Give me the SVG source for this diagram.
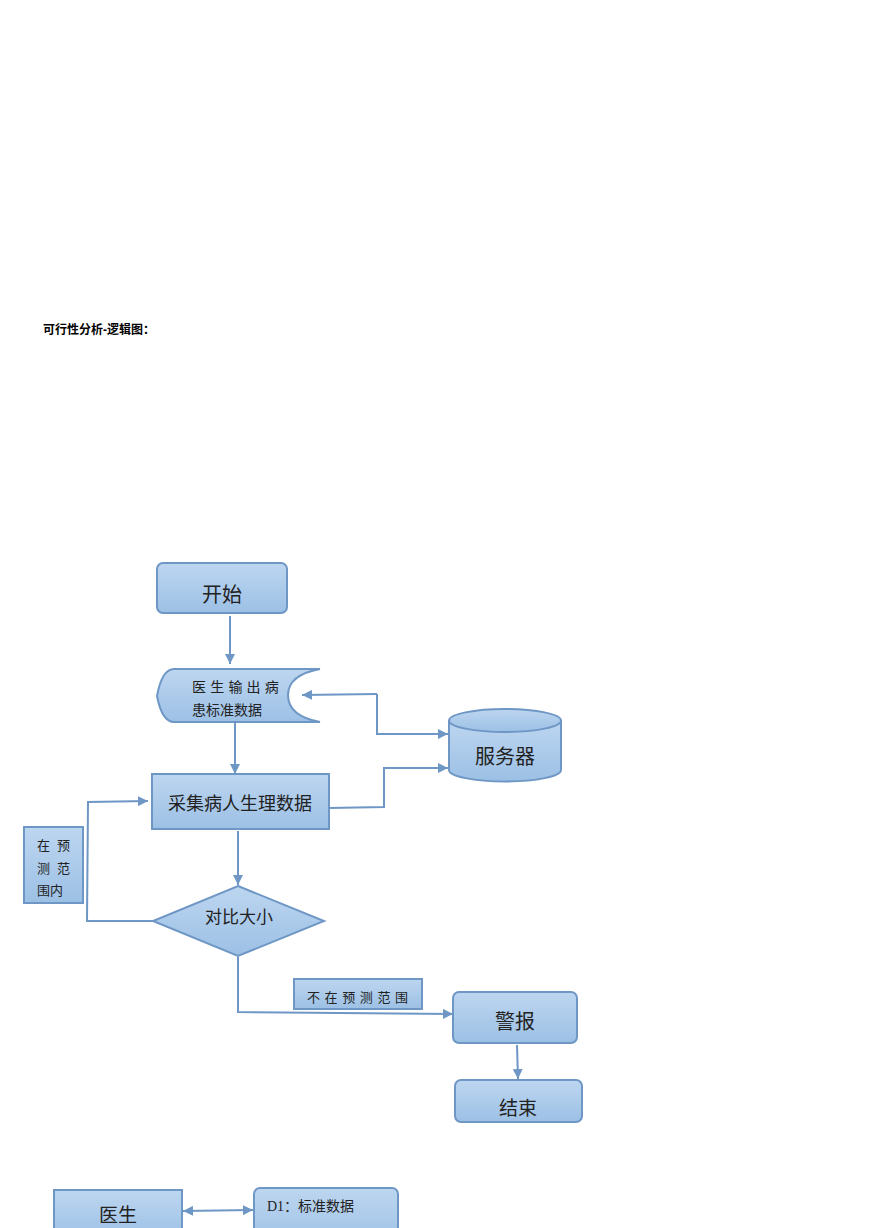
<svg xmlns="http://www.w3.org/2000/svg" width="870" height="1228" viewBox="0 0 870 1228">
<defs>
<linearGradient id="g" x1="0" y1="0" x2="0" y2="1">
<stop offset="0" stop-color="#bdd6f0"/>
<stop offset="1" stop-color="#9cc0e5"/>
</linearGradient>
<marker id="ah" viewBox="0 0 10 10" refX="10" refY="5" markerWidth="5" markerHeight="5" orient="auto-start-reverse" markerUnits="strokeWidth">
<path d="M0,0 L10,5 L0,10 z" fill="#6f97c5"/>
</marker>
</defs>
<style>
.n{fill:url(#g);stroke:#6f97c5;stroke-width:2}
.c{fill:none;stroke:#6f97c5;stroke-width:2}
.a{marker-end:url(#ah)}
.t{font-family:"Noto Sans CJK SC","Liberation Sans",sans-serif;fill:#222;text-anchor:middle}
.s{font-family:"Noto Sans CJK SC","Liberation Sans",sans-serif;fill:#222}
</style>
<rect width="870" height="1228" fill="#fff"/>
<text x="43" y="334" font-family="'Liberation Sans','Noto Sans CJK SC',sans-serif" font-weight="bold" font-size="12" fill="#000">可行性分析-逻辑图：</text>

<g id="connectors">
<line class="c a" x1="230" y1="616" x2="230" y2="664"/>
<line class="c a" x1="235" y1="723" x2="235" y2="774"/>
<polyline class="c a" points="377,694 302,695"/>
<polyline class="c a" points="377,694 377,734 448,734"/>
<polyline class="c a" points="329,808 384,807 384,768 448,768"/>
<line class="c a" x1="238" y1="831" x2="238" y2="885"/>
<polyline class="c a" points="153,921 87,921 88,802 148,801"/>
<polyline class="c a" points="238,957 238,1012 453,1014"/>
<line class="c a" x1="517" y1="1045" x2="518" y2="1079"/>
<line class="c a" x1="183" y1="1211" x2="253" y2="1210" marker-start="url(#ah)"/>
</g>

<g id="start">
<rect class="n" x="157" y="563" width="130" height="50" rx="6"/>
<text class="t" x="222" y="602" font-size="20">开始</text>
</g>

<g id="display">
<path class="n" d="M174,669 L320,669 Q288,675 288,695 Q288,716 320,722 L174,722 Q162,722 157,696 Q162,669 174,669 Z"/>
<text class="s" x="192" y="692" font-size="14" letter-spacing="4.2">医生输出病</text>
<text class="s" x="192" y="715" font-size="14">患标准数据</text>
</g>

<g id="server">
<path class="n" d="M449,720 L449,770 A56,11.5 0 0 0 561,770 L561,720"/>
<ellipse class="n" cx="505" cy="720.5" rx="56" ry="11.5"/>
<text class="t" x="505" y="764" font-size="20">服务器</text>
</g>

<g id="collect">
<rect class="n" x="152" y="774" width="177" height="55"/>
<text class="t" x="240" y="810" font-size="18">采集病人生理数据</text>
</g>

<g id="compare">
<polygon class="n" points="238,886 324,921 238,956 153,921"/>
<text class="t" x="239" y="923" font-size="17">对比大小</text>
</g>

<g id="inrange">
<rect class="n" x="24" y="827" width="59" height="76"/>
<text class="s" font-size="13"><tspan x="37 57" y="850">在预</tspan><tspan x="37 57" y="873">测范</tspan><tspan x="37" y="895">围内</tspan></text>
</g>

<g id="outrange">
<rect class="n" x="294" y="979" width="128" height="30"/>
<text class="s" x="307" y="1002" font-size="13" letter-spacing="4.6">不在预测范围</text>
</g>

<g id="alarm">
<rect class="n" x="453" y="992" width="124" height="51" rx="6"/>
<text class="t" x="515" y="1029" font-size="20">警报</text>
</g>

<g id="end">
<rect class="n" x="455" y="1080" width="127" height="42" rx="6"/>
<text class="t" x="518" y="1115" font-size="19">结束</text>
</g>

<g id="doctor">
<rect class="n" x="54" y="1190" width="128" height="50"/>
<text class="t" x="118" y="1222" font-size="19">医生</text>
</g>

<g id="d1">
<rect class="n" x="254" y="1188" width="144" height="60" rx="6"/>
<text x="267" y="1211" font-size="14" fill="#222" font-family="'Liberation Serif','Noto Sans CJK SC',serif">D1：标准数据</text>
</g>
</svg>
